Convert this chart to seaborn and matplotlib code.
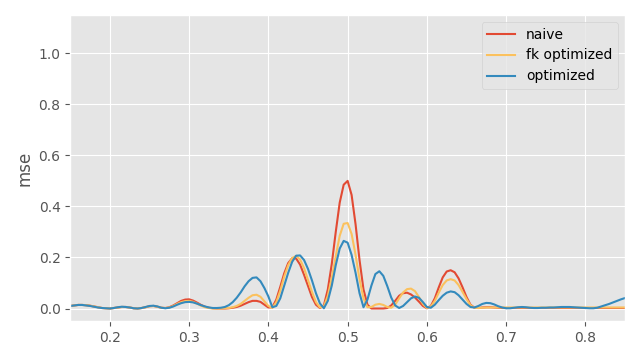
import numpy as np
import pandas as pd
import matplotlib
matplotlib.use("Agg")
import matplotlib.pyplot as plt
import seaborn as sns

# x sample grid (0.15 .. 0.85, step 0.005)
x = np.round(np.linspace(0.15, 0.85, 141), 3)

naive = [
    0.010, 0.012, 0.014, 0.014, 0.013, 0.011, 0.008, 0.005, 0.002, 0.001,
    0.000, 0.002, 0.004, 0.006, 0.006, 0.004, 0.001, 0.000, 0.002, 0.005,
    0.009, 0.010, 0.007, 0.003, 0.002, 0.005, 0.012, 0.021, 0.030, 0.035,
    0.036, 0.031, 0.023, 0.014, 0.007, 0.003, 0.001, 0.000, 0.000, 0.000,
    0.001, 0.003, 0.006, 0.011, 0.018, 0.025, 0.030, 0.030, 0.026, 0.015,
    0.004, 0.005, 0.035, 0.085, 0.138, 0.178, 0.197, 0.196, 0.172, 0.132,
    0.088, 0.045, 0.015, 0.002, 0.012, 0.075, 0.175, 0.300, 0.415, 0.485,
    0.500, 0.445, 0.330, 0.190, 0.075, 0.015, 0.000, 0.000, 0.000, 0.000,
    0.002, 0.012, 0.030, 0.050, 0.060, 0.062, 0.055, 0.043, 0.027, 0.010,
    0.001, 0.010, 0.040, 0.083, 0.122, 0.145, 0.150, 0.142, 0.118, 0.083,
    0.045, 0.015, 0.003, 0.002, 0.004, 0.005, 0.005, 0.004, 0.003, 0.002,
    0.002, 0.002, 0.002, 0.002, 0.002, 0.002, 0.002, 0.002, 0.002, 0.002,
    0.002, 0.002, 0.002, 0.002, 0.002, 0.002, 0.002, 0.002, 0.002, 0.002,
    0.002, 0.002, 0.002, 0.002, 0.002, 0.002, 0.002, 0.002, 0.002, 0.002,
    0.002,
]

fk_optimized = [
    0.010, 0.012, 0.014, 0.014, 0.013, 0.011, 0.008, 0.005, 0.002, 0.001,
    0.000, 0.002, 0.004, 0.006, 0.006, 0.004, 0.001, 0.000, 0.002, 0.005,
    0.009, 0.010, 0.007, 0.003, 0.002, 0.004, 0.010, 0.018, 0.025, 0.029,
    0.030, 0.026, 0.019, 0.011, 0.005, 0.002, 0.000, 0.000, 0.000, 0.001,
    0.002, 0.005, 0.010, 0.018, 0.030, 0.042, 0.052, 0.054, 0.046, 0.028,
    0.010, 0.002, 0.025, 0.070, 0.125, 0.170, 0.198, 0.206, 0.192, 0.158,
    0.112, 0.065, 0.025, 0.004, 0.008, 0.050, 0.120, 0.205, 0.285, 0.332,
    0.335, 0.292, 0.210, 0.115, 0.040, 0.005, 0.006, 0.015, 0.018, 0.014,
    0.006, 0.003, 0.015, 0.040, 0.063, 0.076, 0.078, 0.068, 0.045, 0.018,
    0.002, 0.008, 0.030, 0.062, 0.092, 0.110, 0.115, 0.110, 0.092, 0.065,
    0.037, 0.013, 0.003, 0.002, 0.003, 0.004, 0.004, 0.004, 0.004, 0.004,
    0.004, 0.004, 0.004, 0.004, 0.004, 0.004, 0.004, 0.004, 0.004, 0.004,
    0.004, 0.004, 0.004, 0.004, 0.004, 0.004, 0.004, 0.004, 0.004, 0.004,
    0.004, 0.004, 0.004, 0.004, 0.004, 0.004, 0.004, 0.004, 0.004, 0.004,
    0.004,
]

optimized = [
    0.010, 0.012, 0.014, 0.014, 0.012, 0.010, 0.007, 0.004, 0.002, 0.001,
    0.000, 0.002, 0.005, 0.007, 0.006, 0.004, 0.001, 0.000, 0.002, 0.006,
    0.010, 0.011, 0.008, 0.003, 0.001, 0.003, 0.008, 0.015, 0.021, 0.025,
    0.026, 0.024, 0.019, 0.013, 0.008, 0.004, 0.002, 0.002, 0.003, 0.006,
    0.013, 0.025, 0.042, 0.063, 0.087, 0.107, 0.120, 0.122, 0.107, 0.080,
    0.047, 0.005, 0.010, 0.040, 0.090, 0.140, 0.183, 0.207, 0.208, 0.190,
    0.155, 0.110, 0.060, 0.020, 0.001, 0.030, 0.090, 0.170, 0.235, 0.265,
    0.258, 0.210, 0.140, 0.060, 0.005, 0.035, 0.090, 0.135, 0.146, 0.128,
    0.088, 0.043, 0.012, 0.002, 0.010, 0.025, 0.040, 0.047, 0.042, 0.025,
    0.006, 0.003, 0.015, 0.033, 0.050, 0.062, 0.067, 0.064, 0.052, 0.035,
    0.018, 0.006, 0.004, 0.010, 0.018, 0.022, 0.021, 0.016, 0.009, 0.004,
    0.001, 0.001, 0.003, 0.005, 0.006, 0.005, 0.003, 0.002, 0.002, 0.003,
    0.003, 0.004, 0.004, 0.005, 0.006, 0.006, 0.006, 0.005, 0.004, 0.003,
    0.002, 0.001, 0.001, 0.003, 0.008, 0.013, 0.018, 0.024, 0.030, 0.036,
    0.041,
]

names = ["naive", "fk optimized", "optimized"]
colors = ["#E24A33", "#FBC15E", "#348ABD"]

df = pd.concat([
    pd.DataFrame({"x": x, "mse": vals, "method": name})
    for name, vals in zip(names, [naive, fk_optimized, optimized])
])

plt.style.use("ggplot")
fig, ax = plt.subplots(figsize=(6.4, 3.6), dpi=100)
sns.lineplot(data=df, x="x", y="mse", hue="method", hue_order=names,
             palette=colors, estimator=None, linewidth=1.5, ax=ax)
ax.set_xlim(0.15, 0.85)
ax.set_ylim(-0.05, 1.15)
ax.set_xlabel("")
ax.set_ylabel("mse")
ax.legend(loc="upper right", title=None)
fig.tight_layout()
fig.savefig("out.png")
